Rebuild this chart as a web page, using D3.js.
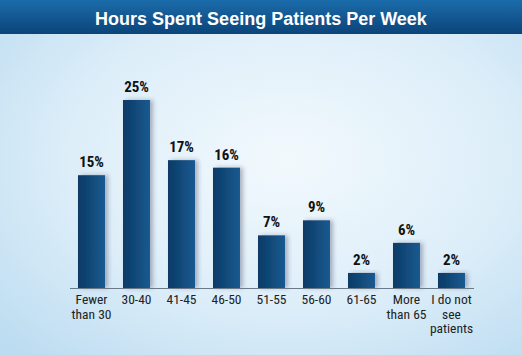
<!DOCTYPE html>
<html><head><meta charset="utf-8">
<script src="https://cdn.jsdelivr.net/npm/d3@7"></script>
<style>body{margin:0;padding:0;overflow:hidden}svg{display:block}</style>
</head><body>
<script>
const categories = [["Fewer","than 30"],["30-40"],["41-45"],["46-50"],["51-55"],["56-60"],["61-65"],["More","than 65"],["I do not","see","patients"]];
const values = [15,25,17,16,7,9,2,6,2];
const valueLabels = ["15%","25%","17%","16%","7%","9%","2%","6%","2%"];
const title = "Hours Spent Seeing Patients Per Week";

const W=522,H=355;
const svg=d3.select("body").append("svg").attr("width",W).attr("height",H);
const defs=svg.append("defs");
const bg=defs.append("radialGradient").attr("id","bg").attr("cx","0.55").attr("cy","0.45").attr("r","0.75");
bg.append("stop").attr("offset","0").attr("stop-color","#f2f9fd");
bg.append("stop").attr("offset","0.55").attr("stop-color","#ddeef9");
bg.append("stop").attr("offset","1").attr("stop-color","#bcdcf1");
const tg=defs.append("linearGradient").attr("id","tg").attr("x1",0).attr("y1",0).attr("x2",0).attr("y2",1);
tg.append("stop").attr("offset","0").attr("stop-color","#1b6cab");
tg.append("stop").attr("offset","1").attr("stop-color","#0b4479");
const bgr=defs.append("linearGradient").attr("id","bar").attr("x1",0).attr("y1",0).attr("x2",1).attr("y2",0);
bgr.append("stop").attr("offset","0").attr("stop-color","#0a3a66");
bgr.append("stop").attr("offset","1").attr("stop-color","#1a5a90");
const sh=defs.append("filter").attr("id","sh").attr("x","-20%").attr("y","-20%").attr("width","160%").attr("height","140%");
sh.append("feDropShadow").attr("dx",3).attr("dy",0).attr("stdDeviation",2).attr("flood-color","#335").attr("flood-opacity",0.35);

svg.append("rect").attr("width",W).attr("height",H).attr("fill","url(#bg)");
svg.append("rect").attr("width",W).attr("height",34).attr("fill","url(#tg)");
svg.append("text").attr("x",W/2).attr("y",25).attr("text-anchor","middle")
  .attr("font-family","'Liberation Sans',Arial,sans-serif")
  .attr("font-weight","bold").attr("font-size",18).attr("fill","#fff").text(title);

const x=d3.scaleBand().domain(d3.range(values.length)).range([69,474]).paddingInner(0.4).paddingOuter(0.2);
const y=d3.scaleLinear().domain([0,25]).range([288,100]);

svg.append("g").selectAll("rect").data(values).join("rect")
  .attr("x",(d,i)=>x(i)).attr("y",d=>y(d)).attr("width",x.bandwidth()).attr("height",d=>y(0)-y(d))
  .attr("fill","url(#bar)").attr("filter","url(#sh)");

svg.append("line").attr("x1",70).attr("x2",474).attr("y1",288.5).attr("y2",288.5).attr("stroke","#6a7a88").attr("stroke-width",1.2);

svg.append("g").selectAll("text").data(values).join("text")
  .attr("x",(d,i)=>x(i)+x.bandwidth()/2).attr("y",d=>y(d)-8).attr("text-anchor","middle")
  .attr("font-family","'Liberation Sans Narrow','Roboto Condensed',Arial,sans-serif")
  .attr("font-weight","bold").attr("font-size",15).attr("fill","#111").text((d,i)=>valueLabels[i]);

const lines=[];
categories.forEach((c,i)=>c.forEach((t,j)=>lines.push({i,j,t})));
svg.append("g").selectAll("text").data(lines).join("text")
  .attr("x",d=>x(d.i)+x.bandwidth()/2).attr("y",d=>304+d.j*14.5).attr("text-anchor","middle")
  .attr("font-family","'Liberation Sans Narrow','Roboto Condensed',Arial,sans-serif")
  .attr("font-size",13.5).attr("fill","#222").text(d=>d.t);
</script>
</body></html>
